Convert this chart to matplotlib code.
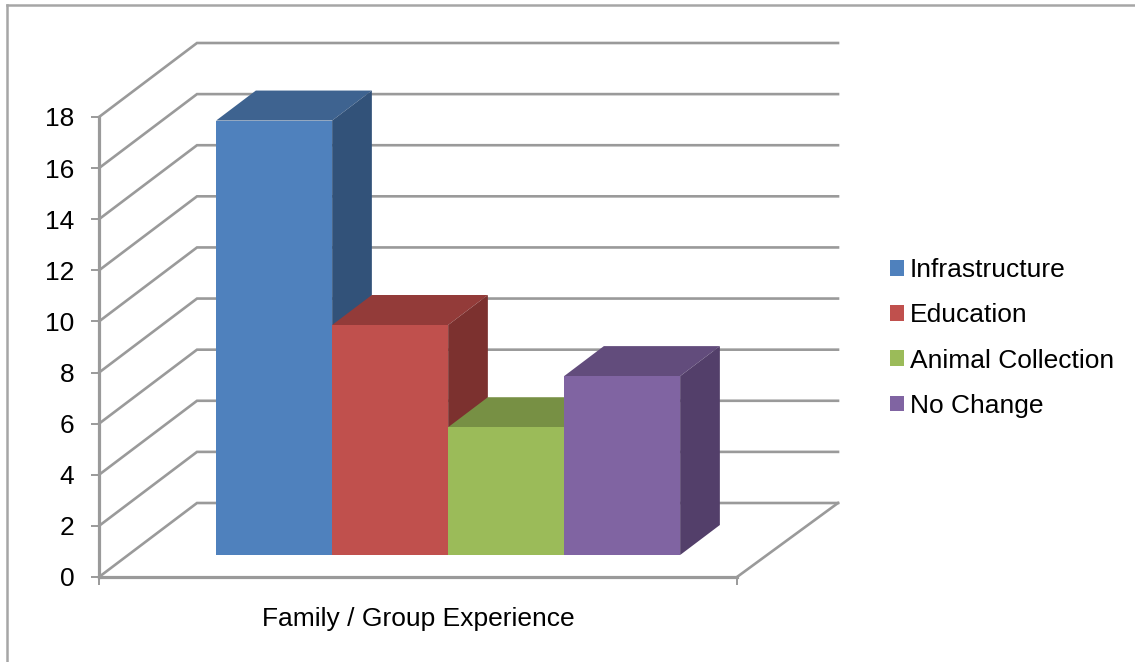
"""Excel-style 3-D clustered column chart, family / group experience."""

import matplotlib

matplotlib.use("Agg")

import matplotlib.pyplot as plt
from matplotlib.lines import Line2D
from matplotlib.patches import Patch, Polygon

GROUP_LABEL = "Family / Group Experience"
SERIES_NAMES = ["Infrastructure", "Education", "Animal Collection", "No Change"]
SERIES_VALUES = [17, 9, 5, 7]
Y_TICKS = [0, 2, 4, 6, 8, 10, 12, 14, 16, 18]

FRONT_COLORS = ["#4F81BD", "#C0504D", "#9BBB59", "#8064A2"]
TOP_COLORS = ["#3E6390", "#933B39", "#779044", "#624C7C"]
SIDE_COLORS = ["#325279", "#7C312F", "#64793A", "#533F6A"]
LINE_COLOR = "#9A9A9A"
FONT = "Liberation Sans"
FONT_SIZE = 19

W, H = 1135, 662
# wall depth in axes units: 98 px across, 74 px up
DEPTH_X = 98 / 638
DEPTH_Y = 74 / (460 / 18)
BACK_RIGHT = 1 + 101 / 638
BAR_WIDTH = 116 / 638
BAR_START = 88 / 638
BAR_NEAR = 22 / 74
BAR_FAR = 52 / 74


def depth_shift(frac):
    return frac * DEPTH_X, frac * DEPTH_Y


def draw_walls(ax):
    for val in Y_TICKS:
        ax.plot(
            [0, DEPTH_X, BACK_RIGHT],
            [val, val + DEPTH_Y, val + DEPTH_Y],
            color=LINE_COLOR,
            linewidth=1.9,
            clip_on=False,
            solid_joinstyle="miter",
            zorder=1,
        )
    ax.plot(
        [1, BACK_RIGHT],
        [0, DEPTH_Y],
        color=LINE_COLOR,
        linewidth=1.9,
        clip_on=False,
        zorder=1,
    )


def draw_column(ax, left, val, front, top, side, order):
    near_x, near_y = depth_shift(BAR_NEAR)
    far_x, far_y = depth_shift(BAR_FAR)
    x0 = left + near_x
    x1 = x0 + BAR_WIDTH
    run_x = far_x - near_x
    run_y = far_y - near_y
    ax.bar(
        x0,
        val,
        width=BAR_WIDTH,
        bottom=near_y,
        align="edge",
        color=front,
        clip_on=False,
        zorder=order + 0.2,
    )
    top_face = [
        (x0, val + near_y),
        (x1, val + near_y),
        (x1 + run_x, val + far_y),
        (x0 + run_x, val + far_y),
    ]
    side_face = [
        (x1, near_y),
        (x1 + run_x, far_y),
        (x1 + run_x, val + far_y),
        (x1, val + near_y),
    ]
    ax.add_patch(Polygon(top_face, facecolor=top, edgecolor="none", clip_on=False, zorder=order))
    ax.add_patch(Polygon(side_face, facecolor=side, edgecolor="none", clip_on=False, zorder=order + 0.1))


plt.rcParams["font.family"] = [FONT, "DejaVu Sans"]
fig = plt.figure(figsize=(W / 100, H / 100), dpi=100, facecolor="white")
ax = fig.add_axes([99 / W, (H - 577) / H, 638 / W, 460 / H], facecolor="none")
ax.set_xlim(0, 1)
ax.set_ylim(0, 18)

draw_walls(ax)
for i, val in enumerate(SERIES_VALUES):
    draw_column(
        ax,
        BAR_START + i * BAR_WIDTH,
        val,
        FRONT_COLORS[i],
        TOP_COLORS[i],
        SIDE_COLORS[i],
        3 + i,
    )

for name in ("top", "right"):
    ax.spines[name].set_visible(False)
for name in ("left", "bottom"):
    ax.spines[name].set_color(LINE_COLOR)
    ax.spines[name].set_linewidth(2.3)
    ax.spines[name].set_zorder(2)

ax.set_yticks(Y_TICKS)
ax.set_xticks([0, 1], ["", ""])
ax.tick_params(axis="y", length=5.8, width=1.4, color=LINE_COLOR, pad=12, labelsize=FONT_SIZE, labelcolor="black")
ax.tick_params(axis="x", length=5.8, width=1.4, color=LINE_COLOR)
ax.set_xlabel(GROUP_LABEL, fontsize=FONT_SIZE, labelpad=12, color="black")

handles = [Patch(facecolor=c, edgecolor="none") for c in FRONT_COLORS]
fig.legend(
    handles,
    SERIES_NAMES,
    loc="center left",
    bbox_to_anchor=(890 / W, (H - 338) / H),
    frameon=False,
    fontsize=FONT_SIZE,
    handlelength=0.53,
    handleheight=0.53,
    handletextpad=0.23,
    labelspacing=0.80,
    borderpad=0,
    borderaxespad=0,
)

# outer chart frame: only top and left edges show in the crop
fig.add_artist(Line2D([6.5 / W, 1], [(H - 5) / H] * 2, color="#A6A6A6", linewidth=1.8))
fig.add_artist(Line2D([6.5 / W, 6.5 / W], [0, (H - 5) / H], color="#A6A6A6", linewidth=1.8))

fig.savefig("out.png", dpi=100, facecolor="white")
plt.close(fig)
